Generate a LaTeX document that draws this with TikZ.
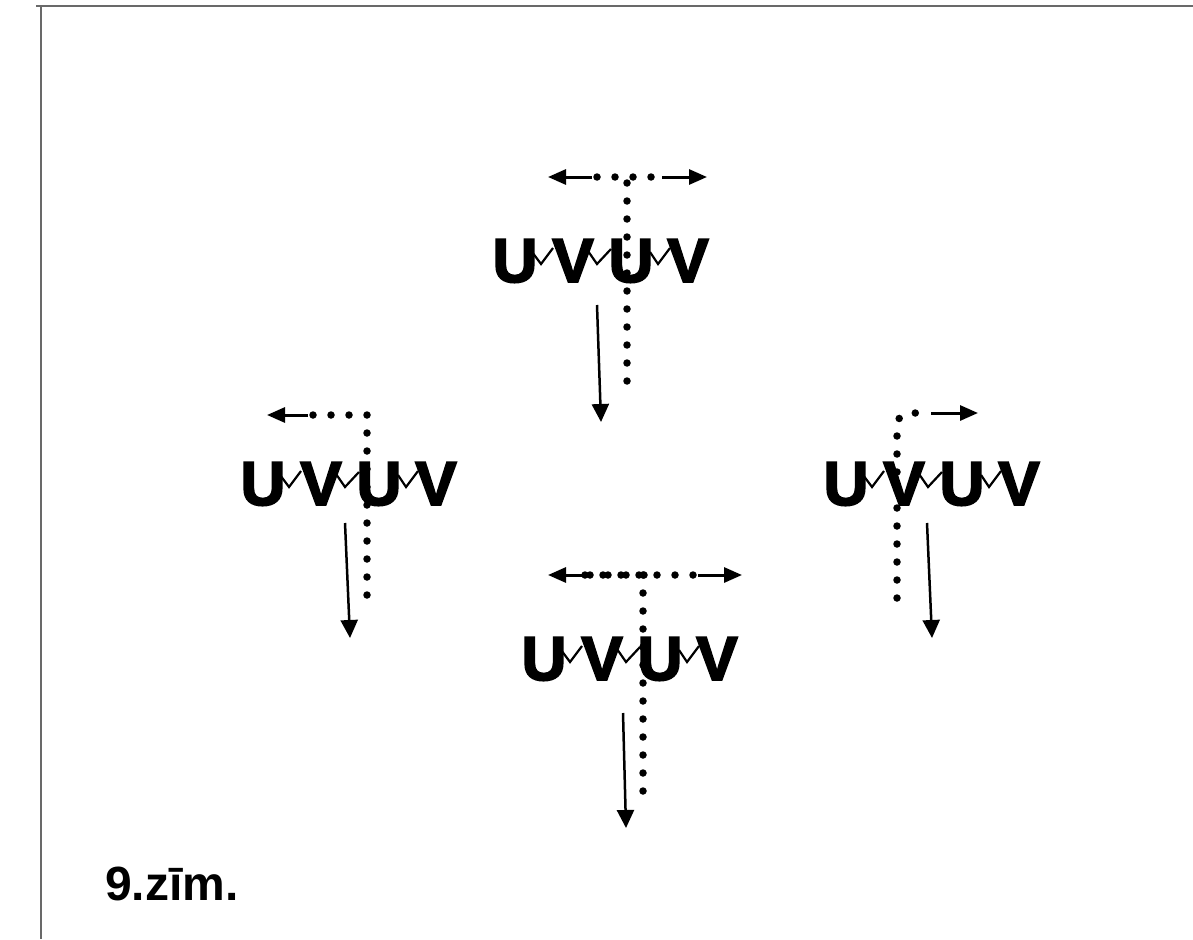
\documentclass[tikz,border=0pt]{standalone}
\usepackage{fontspec}
\setmainfont{Liberation Sans}
\newfontfamily\heavyfont[FakeBold=3]{Liberation Sans Bold}
\usetikzlibrary{arrows.meta}
\definecolor{framegray}{RGB}{105,105,105}
\tikzset{
    letter/.style={inner sep=0pt, anchor=base, font=\fontsize{62}{70}\selectfont\heavyfont},
    spring/.style={line width=2.2pt, line join=miter},
    dots/.style={line width=7.5pt, line cap=round, dash pattern=on 0pt off 18pt},
    push/.style={line width=2.5pt, -{Triangle[length=18pt,width=17pt]}},
    side/.style={line width=3pt, -{Triangle[length=18pt,width=15pt]}},
}
% #1 name, #2 centre of first U, #3 baseline
\newcommand\uvchain[3]{
    \node[letter] (#1U1) at (#2,#3) {U};
    \node[letter] (#1V1) at (#2+58,#3) {V};
    \node[letter] (#1U2) at (#2+116,#3) {U};
    \node[letter] (#1V2) at (#2+173,#3) {V};
    \draw[spring] (#2+17,#3-30) -- (#2+26,#3-18) -- (#2+38,#3-34);
    \draw[spring] (#2+73,#3-31) -- (#2+82,#3-18) -- (#2+96,#3-33);
    \draw[spring] (#2+135,#3-30) -- (#2+143,#3-18) -- (#2+155,#3-34);
}

\begin{document}
\begin{tikzpicture}[x=1pt, y=-1pt]
    \useasboundingbox (0,0) rectangle (1193,939);
    \draw[framegray, line width=2pt] (36,6) -- (1193,6) (41,6) -- (41,939);

    \uvchain{top}{515}{282}
    \uvchain{left}{263}{505}
    \uvchain{right}{846}{505}
    \uvchain{bot}{544}{680}

    % top
    \draw[side] (592,177) -- (548,177);
    \draw[side] (662,177) -- (707,177);
    \draw[dots] (597,177) -- (653,177);
    \draw[dots] (627,183) -- (627,383);
    \draw[push] (597,305) -- (601,422);

    % left
    \draw[side] (308,415) -- (267,415);
    \draw[dots] (367,595) -- (367,415) -- (312,415);
    \draw[push] (345,523) -- (350,638);

    % right
    \draw[dots, rounded corners=12pt] (897,598) |- (929,413);
    \draw[side] (931,413) -- (978,413);
    \draw[push] (927,523) -- (932,638);

    % bottom
    \draw[side] (588,575) -- (548,575);
    \draw[side] (698,575) -- (742,575);
    \draw[dots] (585,575) -- (693,575);
    \draw[dots] (590,575) -- (644,575);
    \draw[dots] (643,575) -- (643,791);
    \draw[push] (623,713) -- (626,828);

    \node[anchor=base west, inner sep=0pt, font=\fontsize{48}{52}\selectfont\bfseries] (caption) at (105,900) {9.zīm.};
\end{tikzpicture}
\end{document}
